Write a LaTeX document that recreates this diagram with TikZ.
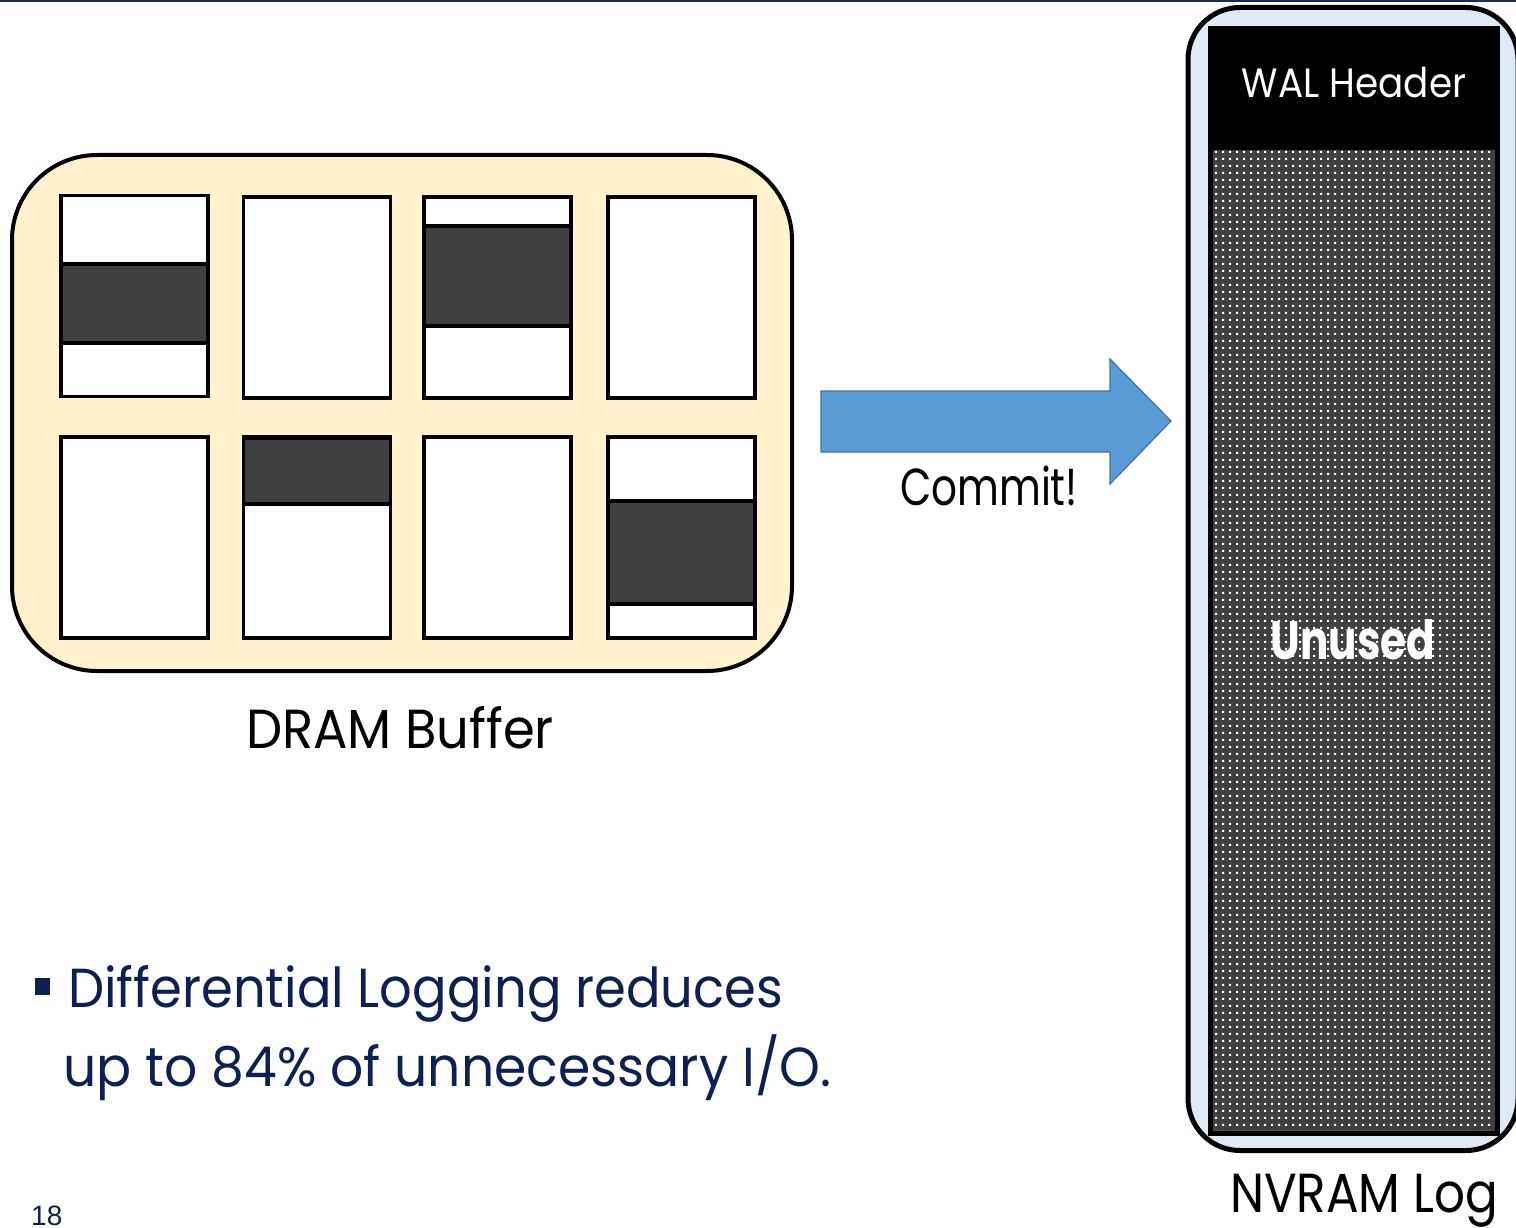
\documentclass[tikz,border=0pt]{standalone}
\usepackage{fontspec}
\setmainfont{Poppins}
\newfontfamily\numfont{Liberation Sans}
\usetikzlibrary{patterns.meta}

\definecolor{navyline}{HTML}{1C2B5A}
\definecolor{navytext}{HTML}{0E1F52}
\definecolor{cream}{HTML}{FFF2CC}
\definecolor{paleblue}{HTML}{DEEBF7}
\definecolor{arrowblue}{HTML}{5B9BD5}
\definecolor{arrowedge}{HTML}{41719C}
\definecolor{darkband}{HTML}{404040}

% white dot grid laid over the unused part of the log
\tikzdeclarepattern{
  name=whitedots,
  type=colored,
  bottom left={(0pt,0pt)},
  top right={(6.7pt,6.7pt)},
  tile size={(6.7pt,6.7pt)},
  code={\fill[white] (2.3pt,2.3pt) rectangle (4.4pt,4.4pt);}
}

% horizontally condensed text
\newcommand{\narrow}[2]{\scalebox{#1}[1]{#2}}

\begin{document}
\begin{tikzpicture}[x=1pt,y=-1pt,
  dramframe/.style={draw=black, line width=4pt, fill=cream, rounded corners=85pt, inner sep=0pt},
  logframe/.style={draw=black, line width=5pt, fill=paleblue, rounded corners=52pt, inner sep=0pt},
  pagebox/.style={draw=black, line width=3.5pt, fill=white, inner sep=0pt, outer sep=0pt, minimum width=147pt, minimum height=201pt},
  band/.style={draw=black, line width=3.5pt, fill=darkband},
  bigtext/.style={font=\fontsize{55}{60}\selectfont, inner sep=0pt},
  bluearrow/.style={fill=arrowblue, draw=arrowedge, line width=1.2pt, line join=miter}
]
\useasboundingbox (0,0) rectangle (1516,1228);
\fill[white] (0,0) rectangle (1516,1228);
\fill[navyline] (0,0) rectangle (1516,2.5);

% ---- DRAM buffer with eight pages ----
\node[dramframe, minimum width=780pt, minimum height=516pt] (dram) at (402,413) {};

\node[pagebox] (p1) at (134.5,296) {};
\node[pagebox] (p2) at (317,297.5) {};
\node[pagebox] (p3) at (497.5,297.5) {};
\node[pagebox] (p4) at (681.5,297.5) {};
\node[pagebox] (p5) at (134.5,537.5) {};
\node[pagebox] (p6) at (317,537.5) {};
\node[pagebox] (p7) at (497.5,537.5) {};
\node[pagebox] (p8) at (681.5,537.5) {};

% dirty regions inside the pages
\draw[band] (p1.west |- 0,264) rectangle (p1.east |- 0,343);
\draw[band] (p3.west |- 0,226) rectangle (p3.east |- 0,326);
\draw[band] (p6.west |- 0,438) rectangle (p6.east |- 0,504);
\draw[band] (p8.west |- 0,501) rectangle (p8.east |- 0,604);

\node[bigtext, anchor=base] (dramlabel) at (400,748) {\narrow{0.93}{DRAM Buffer}};

% ---- commit arrow ----
\draw[bluearrow] (821,391) -- (1110,391) -- (1110,359) -- (1171,421)
  -- (1110,484) -- (1110,452) -- (821,452) -- cycle;
\node[bigtext, font=\fontsize{52}{56}\selectfont, anchor=base] (commit) at (989,505) {\narrow{0.78}{Commit!}};

% ---- NVRAM log ----
\node[logframe, minimum width=330pt, minimum height=1143pt] (nvram) at (1353,579) {};
\fill[darkband] (1210,148) rectangle (1497,1133);
\fill[pattern=whitedots] (1212,150) rectangle (1495,1131);
\fill[black] (1208,26) rectangle (1500,150);
\draw[black, line width=5pt] (1210.5,148) -- (1210.5,1133) -- (1497,1133) -- (1497,148);
\node[font=\fontsize{41}{46}\selectfont, text=white, inner sep=0pt, anchor=base] (walhdr) at (1354,98) {\narrow{0.91}{WAL Header}};
\node[font=\fontsize{54}{60}\selectfont\bfseries, text=white, inner sep=0pt, anchor=base] (unused) at (1353,659) {\narrow{0.78}{Unused}};
\node[bigtext, anchor=base] (nvlabel) at (1364,1212) {\narrow{0.88}{NVRAM Log}};

% ---- bullet text ----
\fill[navytext] (35,978) rectangle (50,995);
\node[bigtext, text=navytext, anchor=base west] (line1) at (68,1007) {\narrow{0.93}{Differential Logging reduces}};
\node[bigtext, text=navytext, anchor=base west] (line2) at (63,1086) {\narrow{0.945}{up to 84\% of unnecessary I/O.}};

\node[font=\numfont\fontsize{28}{30}\selectfont, text=navytext, inner sep=0pt, anchor=base west] (pagenum) at (31,1225) {18};
\end{tikzpicture}
\end{document}
